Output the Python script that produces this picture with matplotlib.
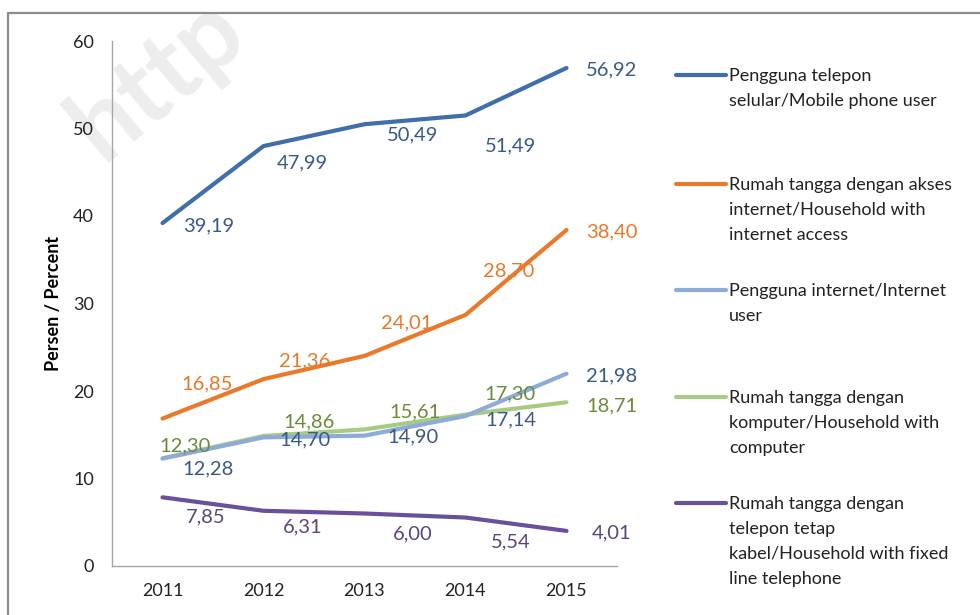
import numpy as np
import matplotlib
matplotlib.use('Agg')
import matplotlib.pyplot as plt
from matplotlib.lines import Line2D
from matplotlib.patches import Rectangle

# Data
years = ['2011', '2012', '2013', '2014', '2015']
mobile_user = [39.19, 47.99, 50.49, 51.49, 56.92]
hh_internet = [16.85, 21.36, 24.01, 28.70, 38.40]
internet_user = [12.28, 14.70, 14.90, 17.14, 21.98]
hh_computer = [12.30, 14.86, 15.61, 17.30, 18.71]
hh_fixed_line = [7.85, 6.31, 6.00, 5.54, 4.01]

legend_labels = [
    'Pengguna telepon\nselular/Mobile phone user',
    'Rumah tangga dengan akses\ninternet/Household with\ninternet access',
    'Pengguna internet/Internet\nuser',
    'Rumah tangga dengan\nkomputer/Household with\ncomputer',
    'Rumah tangga dengan\ntelepon tetap\nkabel/Household with fixed\nline telephone',
]

# style per series: line colour, label colour, label offsets (pixels, dx, dy up)
SERIES = [
    (mobile_user, '#3F6EAA', '#3A5A85',
     [(46, -3), (39, -17), (48, -11), (45, -30), (45, -2)]),
    (hh_internet, '#E97A2C', '#E8782A',
     [(45, 35), (41, 18), (42, 33), (43, 44), (45, -2)]),
    (internet_user, '#8EAAD6', '#3A5A85',
     [(46, -10), (41, -3), (48, -1), (45, -4), (45, -2)]),
    (hh_computer, '#A8CB84', '#6A8B3A',
     [(23, 12), (46, 14), (50, 18), (44, 21), (45, -4)]),
    (hh_fixed_line, '#69509A', '#5B4775',
     [(43, -20), (39, -16), (48, -20), (45, -24), (45, -2)]),
]
# draw order in the original: purple, green, light blue, orange, blue on top
DRAW_ORDER = [4, 3, 2, 1, 0]

plt.rcParams['font.family'] = ['Lato', 'DejaVu Sans']

W, H = 980, 615
fig = plt.figure(figsize=(W / 100, H / 100), dpi=100)

# outer frame (only top and left edges visible)
fig.add_artist(Rectangle((8 / W, -0.1), 1.2, (H - 13) / H + 0.1,
                         transform=fig.transFigure, fill=False,
                         edgecolor='#8C8C8C', linewidth=1.6))

# faint watermark, cut by the top edge as in the original
fig.text(103 / W, 1 - 163 / H, 'http', rotation=40, rotation_mode='anchor',
         ha='left', va='baseline', fontsize=74, fontweight='bold',
         color='#EDEDED', zorder=0, clip_on=True)

ax = fig.add_axes([112 / W, 49 / H, 505 / W, 525 / H])
ax.set_zorder(2)
ax.patch.set_alpha(0)
x = np.arange(len(years))

for i in DRAW_ORDER:
    vals, lc, tc, offs = SERIES[i]
    ax.plot(x, vals, color=lc, linewidth=3.0, solid_capstyle='round',
            solid_joinstyle='round', zorder=2 + (4 - i))
for i in DRAW_ORDER:
    vals, lc, tc, offs = SERIES[i]
    for xi, v, (dx, dy) in zip(x, vals, offs):
        ax.annotate(f'{v:.2f}'.replace('.', ','), (xi, v),
                    xytext=(dx, dy), textcoords='offset pixels',
                    ha='center', va='center', fontsize=14.5, color=tc,
                    zorder=10)

ax.set_xlim(-0.5, 4.5)
ax.set_ylim(0, 60)
ax.set_xticks(x)
ax.set_xticklabels(years)
ax.set_yticks(range(0, 61, 10))
ax.tick_params(length=0, labelsize=13, colors='#222222')
ax.tick_params(axis='y', pad=13)
ax.tick_params(axis='x', pad=12)
for s in ['top', 'right']:
    ax.spines[s].set_visible(False)
for s in ['left', 'bottom']:
    ax.spines[s].set_color('#A6A6A6')
    ax.spines[s].set_linewidth(1.0)
ax.set_ylabel('Persen / Percent', fontsize=13, fontweight='bold', labelpad=8)

# legend drawn by hand to reproduce the spacing of the original
first_line_y = [75, 184, 290, 397, 503]
for i, (lab, y) in enumerate(zip(legend_labels, first_line_y)):
    lc = SERIES[i][1]
    fig.add_artist(Line2D([676 / W, 726 / W], [1 - y / H, 1 - y / H],
                          transform=fig.transFigure, color=lc, linewidth=3.0,
                          solid_capstyle='round'))
    fig.text(729 / W, 1 - (y - 7) / H, lab, ha='left', va='top',
             fontsize=13, color='#222222', linespacing=1.68)

plt.savefig('out.png', dpi=100)
plt.close()
